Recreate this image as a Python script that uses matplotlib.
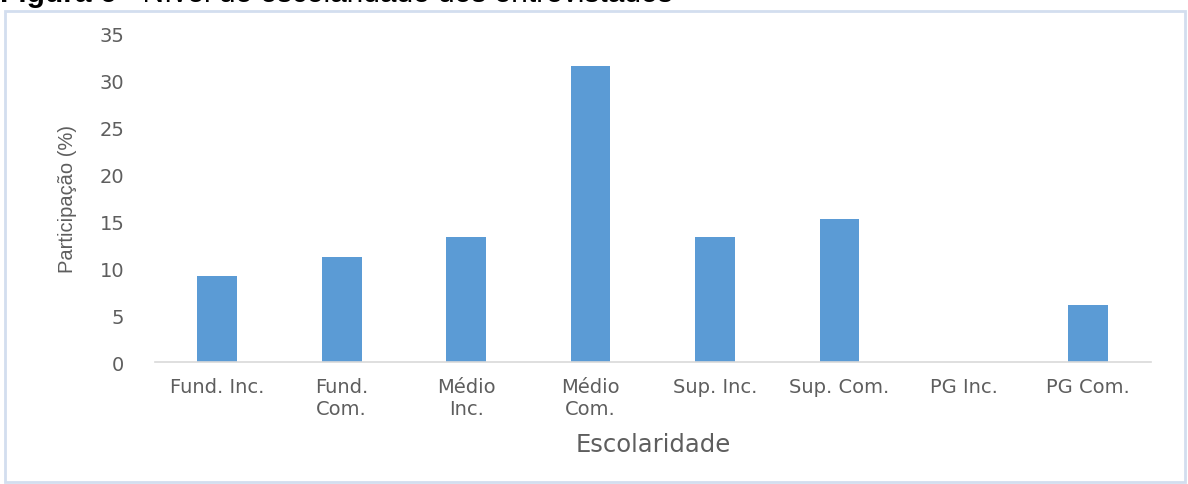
import matplotlib.pyplot as plt
from matplotlib.patches import Rectangle

# escolaridade dos entrevistados (%)
categorias = ["Fund. Inc.", "Fund.\nCom.", "Médio\nInc.", "Médio\nCom.",
              "Sup. Inc.", "Sup. Com.", "PG Inc.", "PG Com."]
participacao = [9.2, 11.2, 13.3, 31.6, 13.3, 15.3, 0.0, 6.1]
yticks = [0, 5, 10, 15, 20, 25, 30, 35]

cinza = "#5E5E5E"
azul = "#5B9BD5"

fig = plt.figure(figsize=(11.88, 4.85), dpi=100)
ax = fig.add_axes([0.1305, 0.2515, 0.838, 0.6765])

x = range(len(categorias))
ax.bar(x, participacao, width=0.32, color=azul, zorder=2)

ax.set_xlim(-0.5, len(categorias) - 0.5)
ax.set_ylim(0, 35)
ax.set_yticks(yticks)
ax.set_xticks(list(x))
ax.set_xticklabels(categorias, fontsize=14, color=cinza, family="DejaVu Sans",
                   linespacing=1.2)
for lbl in ax.get_yticklabels():
    lbl.set_fontsize(14)
    lbl.set_color(cinza)
    lbl.set_family("DejaVu Sans")
ax.tick_params(length=0)
ax.tick_params(axis="x", pad=11)
ax.tick_params(axis="y", pad=22)

for s in ["top", "right", "left"]:
    ax.spines[s].set_visible(False)
ax.spines["bottom"].set_color("#D9D9D9")
ax.spines["bottom"].set_linewidth(1.2)

ax.set_xlabel("Escolaridade", fontsize=17.5, color=cinza, family="DejaVu Sans",
              labelpad=10)
ax.set_ylabel("Participação (%)", fontsize=14.5, color=cinza,
              family=["Liberation Sans Narrow", "Liberation Sans"], labelpad=16)

# moldura do gráfico
fig.patches.append(Rectangle((5 / 1188, 2 / 485), 1180 / 1188, 471 / 485,
                             transform=fig.transFigure, fill=False,
                             edgecolor="#D3DEEF", linewidth=2))

# legenda da figura (cortada no topo)
base = 1 - 2 / 485
t1 = fig.text(0.0, base, "Figura 6", fontsize=21.5, family="Liberation Sans",
              weight="bold", va="baseline", ha="left", color="black")
fig.canvas.draw()
bb = t1.get_window_extent()
fig.text(bb.x1 / 1188, base, " - Nível de escolaridade dos entrevistados",
         fontsize=21.5, family="Liberation Sans", va="baseline", ha="left",
         color="black")

fig.savefig("out.png", dpi=100)
